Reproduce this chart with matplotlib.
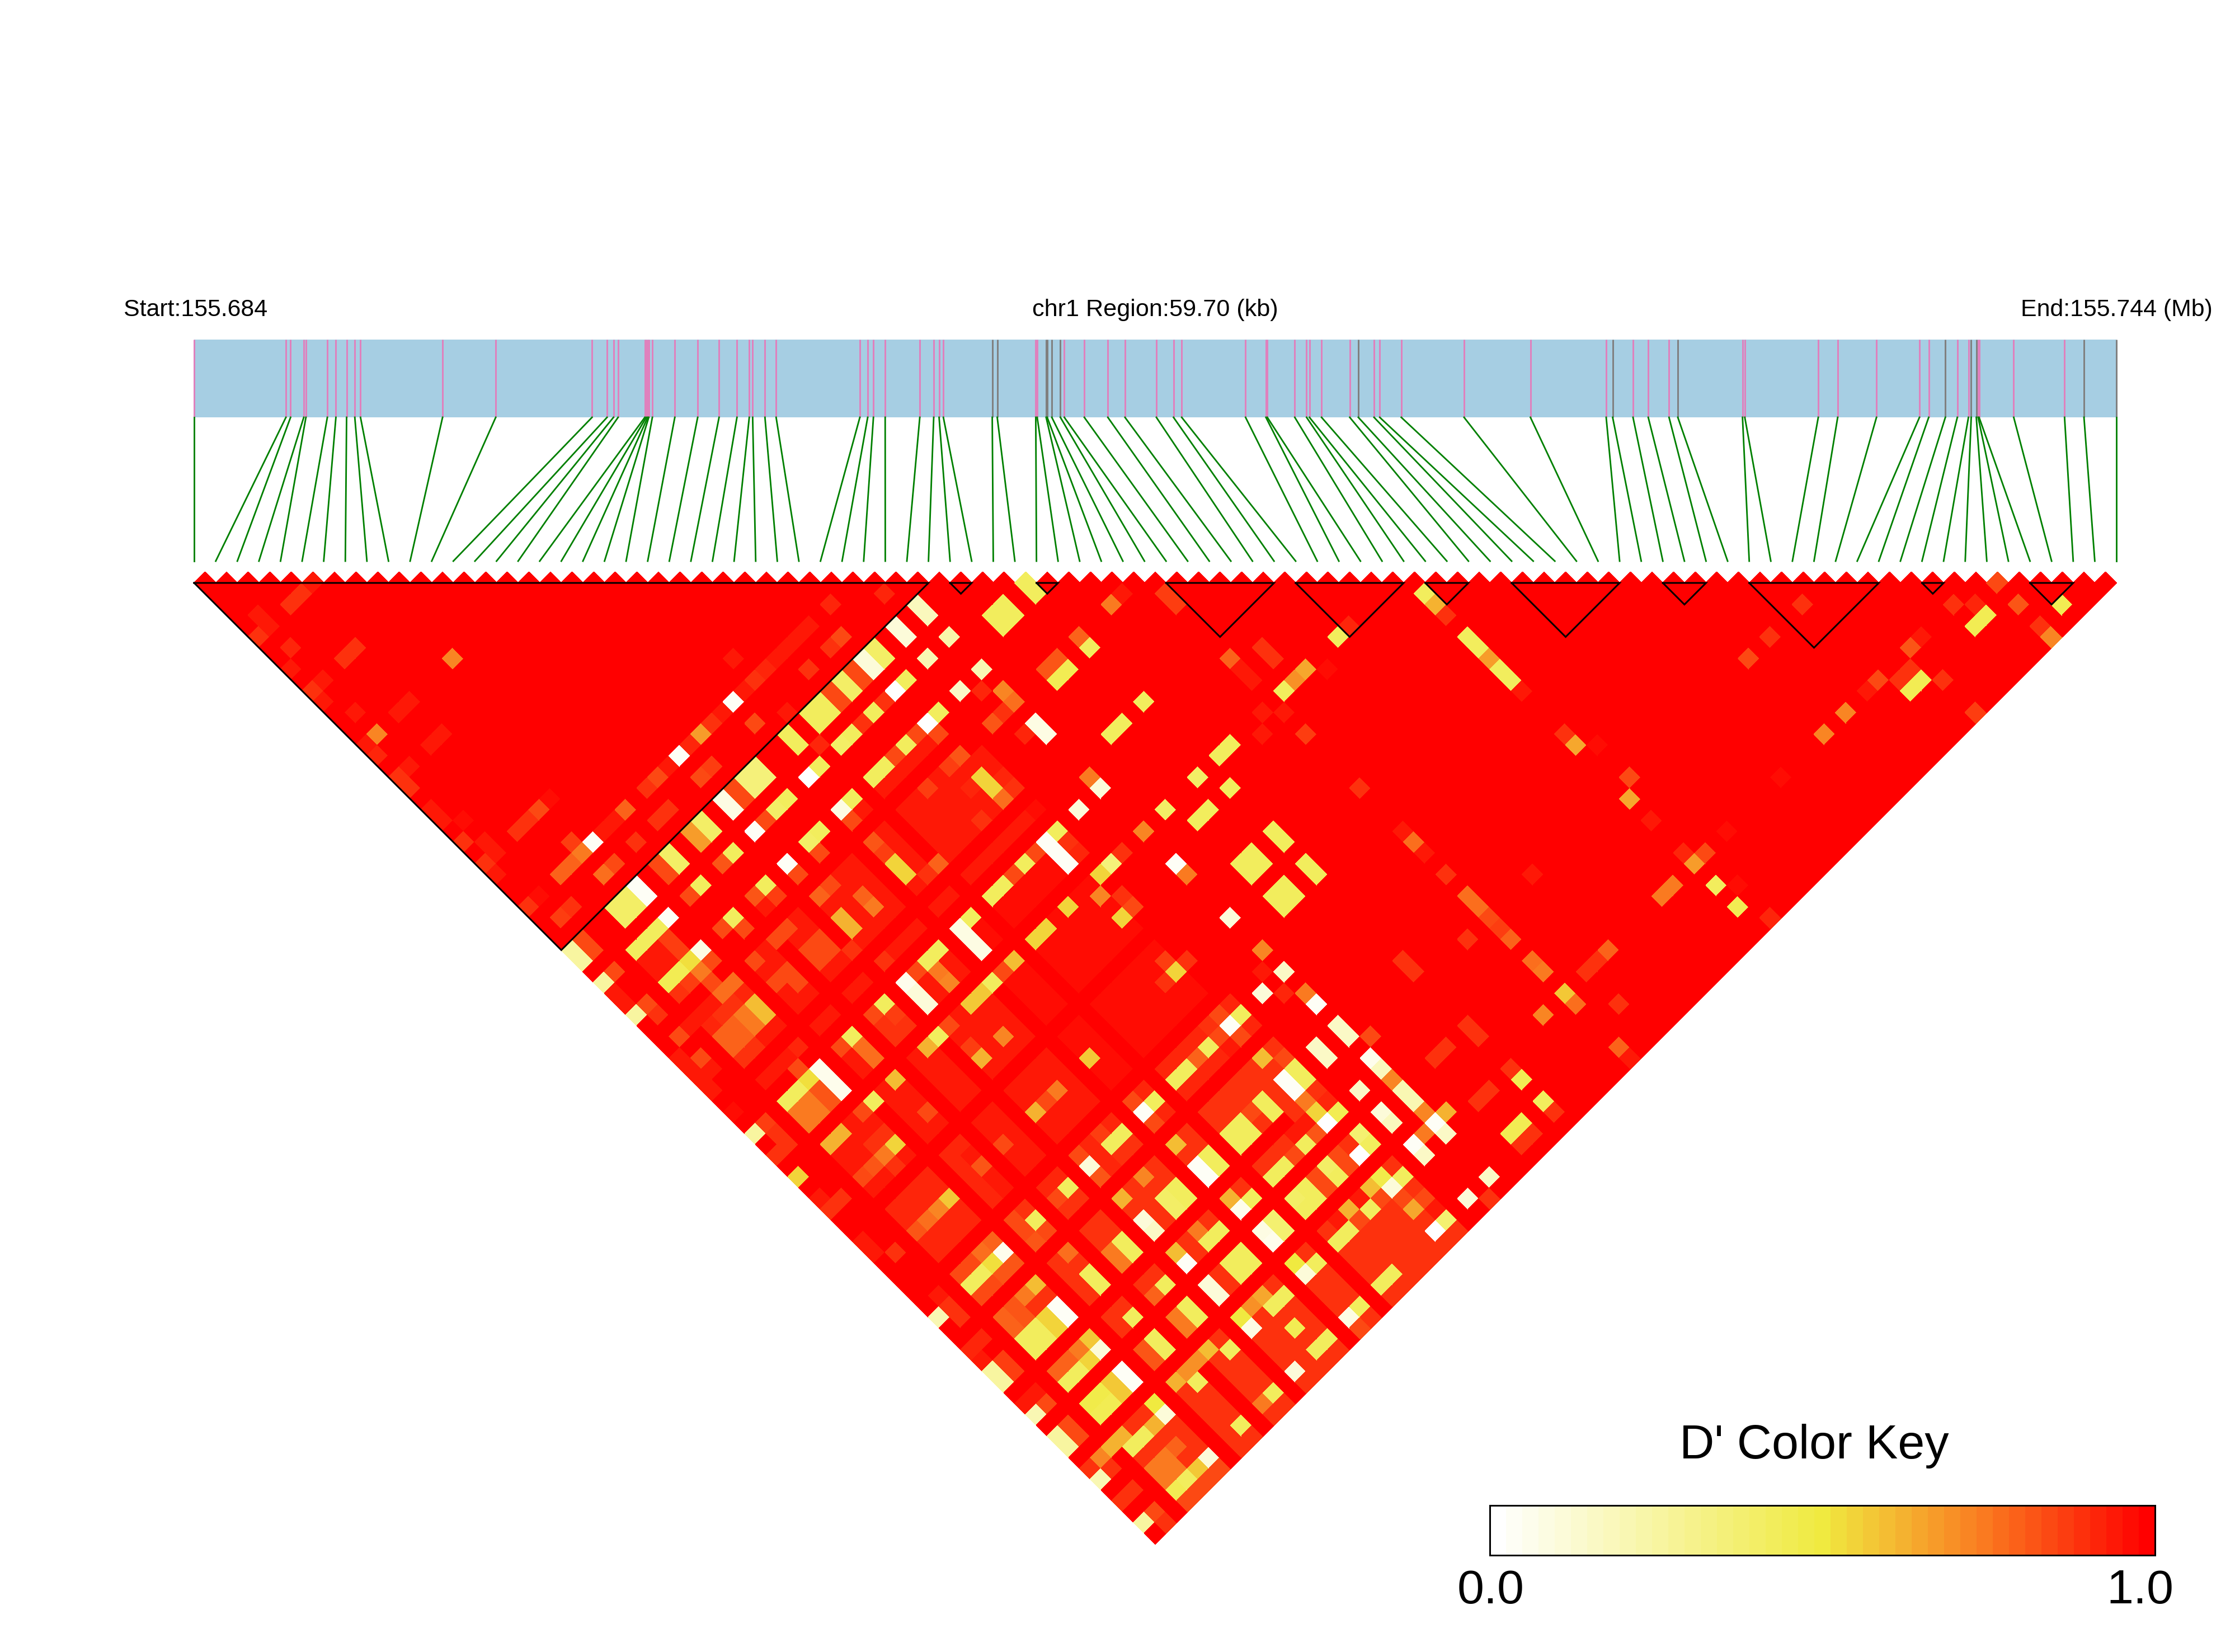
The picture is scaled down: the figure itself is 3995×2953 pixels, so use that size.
import numpy as np
import matplotlib
matplotlib.use('Agg')
import matplotlib.pyplot as plt
from matplotlib.collections import PolyCollection
from matplotlib.colors import LinearSegmentedColormap

plt.rcParams['font.family'] = ['Liberation Sans', 'DejaVu Sans']

# snp positions in kb from region start
snp_kb = [0.0, 2.851, 2.995, 3.405, 3.472, 4.137, 4.403, 4.735, 4.990, 5.167,
          7.716, 9.367, 12.358, 12.824, 13.024, 13.167, 13.998, 14.043, 14.087, 14.120,
          14.231, 14.929, 15.639, 16.303, 16.859, 17.241, 17.346, 17.728, 18.075, 20.676,
          20.919, 21.097, 21.462, 22.537, 22.969, 23.136, 23.269, 24.787, 24.942, 26.139,
          26.183, 26.460, 26.493, 26.637, 26.903, 27.025, 27.646, 28.377, 28.909, 29.884,
          30.416, 30.671, 32.654, 33.286, 33.330, 34.183, 34.549, 34.638, 35.014, 35.890,
          36.156, 36.644, 36.821, 37.49, 39.44, 41.501, 43.854, 44.055, 44.687, 45.160,
          45.806, 46.079, 48.088, 48.159, 50.441, 51.044, 52.249, 53.584, 53.871, 54.388,
          54.760, 55.105, 55.191, 55.349, 55.406, 55.435, 56.511, 58.090, 58.693, 59.70]
gray_snps = [37, 38, 41, 42, 43, 44, 60, 67, 71, 79, 82, 83, 88, 89]
region_kb = 59.70

blocks = [(0, 34), (35, 36), (39, 40), (45, 50), (51, 56), (57, 59),
          (61, 66), (68, 70), (72, 78), (80, 81), (85, 87)]

# (i low, i high, j low, j high, D') regions of slightly lower D'
tint_boxes = [(3, 9, 44, 50, .95), (11, 17, 44, 50, .93), (19, 27, 38, 50, .95),
              (3, 9, 52, 60, .94), (11, 17, 52, 60, .95), (19, 27, 52, 66, .96), (3, 9, 62, 66, .92),
              (11, 17, 62, 66, .95), (3, 12, 68, 70, .92), (14, 28, 68, 70, .92), (3, 28, 72, 89, .89)]
red_rows = [2, 7, 10, 13, 18, 21, 29, 31]
red_cols = [37, 39, 40, 43, 49, 51, 55, 61, 67, 71, 76, 79, 82]

# i, j, D'
cells_block = [
    (3,6,.9),(4,6,.9),(5,6,.95),(5,8,.98),(8,11,.98),(1,5,.93),(1,6,.93),(0,6,.9),(6,11,.98),(8,14,.98),
    (1,8,.92),(0,9,.93),(3,11,.9),(4,11,.9),(6,14,.98),(8,16,.72),(11,19,.98),(1,11,.94),(0,11,.9),(0,12,.93),
    (8,19,.98),(3,16,.93),(4,16,.93),(1,14,.93),(1,16,.72),(0,16,.93),(0,17,.92),(3,19,.93),(4,19,.93),(1,19,.95),
    (0,19,.9),(0,20,.9),(8,27,.98),(6,27,.97),(5,27,.85),(3,27,.9),(4,27,.9),(0,22,.95),(0,23,.93),(1,24,.96),
    (0,25,.9),(1,26,.95),(1,27,.95),(0,27,.9),(0,28,.95),(1,31,.96),(0,31,.88),(5,30,.87),(5,31,.75),(3,31,.8),
    (4,31,.8),(2,33,.9),(1,33,.86),(31,33,.92),(28,31,.92),(26,31,.95),(25,31,.95),(24,31,.95),(23,31,.95),(22,31,.92),
    (21,31,.9),(20,31,.95),(19,31,.03),(18,31,.93),(17,31,.9),(16,31,.68),(15,31,.92),(14,31,.03),(13,31,.95),(12,31,.85),
    (11,31,.9),(27,33,.85),(26,33,.9),(24,33,.88),(21,29,.95),(14,27,.98),(11,27,.98),(21,34,.93),(19,33,.85),(15,33,.87),
    (14,33,.83),(11,33,.9),(10,33,.88),(9,31,.8),(8,31,.95),(7,31,.95),(6,31,.03),(8,33,.88),(6,33,.85),(5,33,.78),
]
cells_left = [
    (38,39,.42),(38,40,.42),(0,35,.25),(0,36,.25),(32,35,.18),(32,36,.18),(32,38,.22),(30,38,.2),(30,35,.1),(30,36,.1),
    (36,39,.42),(36,40,.42),(35,39,.42),(35,40,.42),(41,44,.75),(42,44,.95),(32,41,.2),(30,41,.15),(31,42,.92),(32,43,.72),
    (32,44,.78),(31,44,.88),(30,44,.82),(38,44,.8),(38,45,.42),(36,44,.82),(35,44,.82),(36,45,.45),(35,45,.45),(32,46,.08),
    (32,47,.08),(31,46,.92),(35,50,.42),(36,50,.42),(28,35,.4),(28,36,.4),(27,35,.1),(27,36,.1),(25,35,.4),(25,36,.4),
    (26,36,.85),(26,35,.85),(24,36,.85),(24,35,.85),(23,35,.42),(23,36,.42),(22,35,.42),(22,36,.42),(20,35,.42),(20,36,.42),
    (21,37,.92),(28,38,.42),(27,38,.02),(26,38,.9),(25,38,.42),(24,38,.88),(23,38,.42),(22,38,.4),(20,38,.42),(19,38,.02),
    (28,41,.42),(27,41,.02),(26,41,.85),(25,41,.42),(24,41,.85),(23,41,.42),(22,41,.42),(20,41,.42),(19,41,.08),(19,42,.85),
    (27,42,.85),(26,42,.93),(27,44,.82),(26,44,.86),(27,45,.93),(28,45,.93),(28,46,.93),(27,46,.55),(27,47,.55),(27,48,.78),
    (28,48,.9),(28,47,.92),(26,46,.92),(26,47,.93),(25,48,.9),(24,44,.87),(27,50,.93),(28,50,.96),(32,51,.75),(32,52,.1),
    (30,52,.12),(28,52,.42),(27,52,.03),(27,53,.03),(27,54,.03),(28,53,.9),(28,54,.92),(26,52,.83),(25,52,.42),(24,52,.85),
    (23,52,.42),(22,52,.42),(25,50,.95),(19,46,.55),(19,47,.55),(19,44,.82),(19,45,.86),(21,48,.8),(20,48,.88),(17,35,.35),
    (17,36,.35),(16,35,.35),(16,36,.35),(14,35,.08),(14,36,.08),(15,36,.85),(15,35,.85),(12,35,.4),(12,36,.4),(11,35,.68),
    (11,36,.68),(9,35,.4),(9,36,.4),(8,35,.83),(8,36,.83),(6,35,.03),(6,36,.03),(5,35,.4),(5,36,.4),(4,35,.4),
    (4,36,.4),(1,35,.85),(1,36,.85),(6,38,.03),(5,38,.42),(4,38,.42),(3,38,.42),(9,38,.42),(8,38,.83),(12,38,.42),
    (11,38,.82),(14,38,.03),(15,38,.85),(16,38,.4),(17,38,.42),(17,41,.42),(16,41,.4),(14,41,.03),(14,42,.85),(12,41,.42),
    (11,41,.82),(12,42,.87),(11,42,.93),(16,42,.85),(9,41,.42),(8,41,.83),(9,42,.85),(6,41,.08),(5,41,.52),(4,41,.45),
    (3,41,.45),(11,44,.85),(10,44,.85),(8,44,.85),(14,46,.62),(14,47,.62),(12,46,.85),(12,47,.85),
    (11,46,.85),(11,47,.85),(13,48,.88),(16,46,.8),(16,47,.75),(15,44,.85),(14,44,.8),(14,50,.9),(19,52,.08),(19,53,.08),
    (19,54,.08),(20,52,.42),(17,52,.42),(16,52,.42),(15,52,.85),(14,52,.05),(14,53,.1),(14,54,.1),(16,53,.75),(16,54,.72),
    (20,56,.6),(18,56,.42),(17,56,.58),(16,56,.58),(19,56,.85),(23,56,.55),(22,56,.55),(25,56,.55),(29,56,.35),(28,56,.55),
    (27,57,.72),(12,52,.42),
    # lower left edge
    (1,38,.85),(0,38,.25),(5,39,.87),(5,40,.87),(4,39,.93),(4,40,.93),(3,39,.93),(3,40,.93),(3,42,.88),(4,42,.87),
    (5,42,.75),(6,42,.83),(5,43,.85),(6,44,.77),(5,44,.77),(6,45,.92),(5,45,.9),(4,45,.9),(3,45,.92),(6,46,.6),
    (6,47,.6),(5,46,.75),(5,47,.75),(4,46,.8),(4,47,.8),(3,46,.8),(3,47,.8),(4,48,.9),(3,48,.9),(6,50,.92),
    (5,50,.93),(5,51,.85),(4,50,.95),(3,50,.95),(0,41,.25),(1,41,.85),(1,42,.9),(0,40,.93),(0,39,.93),(2,44,.93),
    (1,44,.85),(0,45,.95),(1,46,.85),(1,47,.93),(0,46,.93),(0,47,.93),(0,48,.93),(0,50,.97),(9,46,.85),(9,47,.85),
    (8,46,.85),(8,47,.93),(9,48,.93),(8,48,.93),(9,50,.95),(11,52,.85),(12,53,.87),(12,54,.9),(11,53,.88),(11,54,.9),
    (0,62,.93),(0,63,.93),(1,64,.88),
]
cells_bottom = [
    (0,52,.25),(1,52,.87),(1,53,.9),(1,54,.9),(0,54,.9),(0,56,.55),(0,58,.93),(1,59,.9),(0,59,.9),(3,52,.42),
    (4,52,.42),(5,52,.52),(6,52,.05),(6,53,.05),(6,54,.05),(4,53,.75),(4,54,.75),(3,53,.75),(3,54,.75),(5,53,.82),
    (5,54,.82),(9,52,.42),(9,53,.77),(9,54,.77),(8,52,.85),(8,53,.93),(8,54,.93),(9,56,.6),(7,56,.42),(6,56,.85),
    (4,56,.62),(3,56,.62),(6,59,.55),(5,59,.75),(4,59,.82),(3,59,.85),(5,60,.88),(6,58,.9),(5,58,.9),(9,59,.85),
    (8,57,.93),(6,64,.58),(5,64,.72),(4,64,.78),(3,64,.82),(9,64,.82),(9,63,.95),(9,65,.95),(9,66,.95),(9,69,.42),
    (9,68,.9),(8,68,.85),(8,69,.85),(9,70,.85),(8,70,.82),(12,69,.42),(11,69,.85),(12,68,.92),(11,68,.92),(12,70,.88),
    (11,70,.9),(14,69,.1),(14,68,.85),(14,70,.82),(16,69,.42),(17,69,.42),(16,68,.87),(16,70,.88),(17,70,.88),(19,64,.58),
    (16,64,.75),(14,64,.62),(15,64,.85),(16,59,.72),(14,59,.62),(14,58,.87),(13,56,.42),(12,56,.62),(14,56,.85),(11,64,.84),
    (20,69,.42),(19,69,.03),(19,68,.85),(19,70,.85),(22,69,.42),(23,69,.42),(24,69,.8),(25,69,.42),(26,69,.85),(27,69,.03),
    (28,69,.42),(27,68,.85),(27,70,.85),(26,70,.93),(0,69,.2),(1,69,.88),(1,70,.88),(1,68,.95),(1,72,.92),(0,72,.92),
    (0,73,.93),(0,74,.25),(0,75,.25),(1,75,.87),(1,74,.87),(0,78,.2),(1,78,.85),(0,77,.93),(1,77,.93),(0,80,.25),
    (0,81,.25),(1,80,.85),(1,81,.85),(0,84,.2),(0,83,.88),(1,84,.88),(1,83,.72),(2,83,.62),(3,83,.62),(3,84,.42),
    (4,84,.42),(5,84,.62),(6,84,.1),(6,83,.5),(0,88,.25),(1,88,.85),(1,89,.9),(0,86,.9),(1,86,.9),(3,88,.45),
    (4,88,.42),(5,88,.58),(6,88,.1),(3,89,.85),(4,89,.85),(5,89,.85),(6,89,.85),(3,86,.75),(4,86,.75),(3,87,.75),
    (4,87,.75),(5,86,.8),(4,80,.48),(4,81,.45),(3,80,.48),(3,81,.45),(5,80,.58),(5,81,.58),(6,80,.03),(6,81,.03),
    (3,78,.42),(4,78,.42),(5,78,.55),(6,78,.12),(5,77,.75),(6,77,.58),(3,77,.8),(4,77,.8),(4,74,.42),(4,75,.42),
    (3,74,.42),(3,75,.42),(5,74,.55),(5,75,.55),(6,74,.03),(6,75,.03),(3,72,.8),(3,73,.8),(4,72,.82),(4,73,.82),
    (6,72,.6),(5,72,.75),(3,69,.42),(4,69,.42),(5,69,.52),(6,69,.05),(6,68,.8),(5,68,.78),(6,70,.82),(5,70,.82),
    (4,70,.85),(3,70,.85),(4,68,.85),(3,68,.85),(9,74,.42),(9,75,.42),(9,72,.78),(12,74,.42),(12,75,.42),(11,74,.75),
    (11,75,.75),(14,74,.1),(14,75,.15),(14,72,.62),(16,72,.72),(17,74,.42),(17,75,.42),(16,74,.4),(16,75,.4),(19,72,.6),
    (19,74,.03),(19,75,.03),(20,74,.42),(20,75,.42),(23,74,.42),(23,75,.42),(22,74,.42),(22,75,.42),(27,72,.6),(19,77,.62),
    (19,78,.05),(20,78,.42),(17,78,.42),(16,78,.42),(16,77,.75),(14,77,.6),(14,78,.03),(12,78,.42),(11,78,.8),(25,74,.42),
    (25,75,.42),(24,74,.85),(22,78,.42),(22,84,.42),(19,83,.5),(19,84,.1),(20,84,.42),(22,88,.42),(23,88,.42),(20,88,.42),
    (19,88,.08),(19,89,.85),(16,86,.45),(16,84,.42),(17,84,.42),(16,83,.65),(15,83,.7),(14,83,.5),(14,84,.08),(14,80,.1),
    (14,81,.12),(17,80,.42),(17,81,.42),(16,80,.42),(16,81,.42),(19,80,.08),(19,81,.05),(20,80,.38),(20,81,.38),(12,80,.42),
    (12,81,.42),(11,80,.75),(11,81,.75),(9,80,.42),(9,81,.42),(8,80,.82),(8,81,.82),(9,78,.42),(11,83,.6),(10,83,.7),
    (9,83,.7),(8,83,.62),(12,84,.42),(9,84,.42),(14,88,.1),(12,88,.42),(11,88,.75),(16,88,.42),(17,88,.42),(9,88,.42),
]
cells_right = [
    (32,69,.15),(32,71,.75),(32,72,.04),(31,70,.92),(32,74,.15),(32,75,.15),(33,76,.85),(30,74,.15),(30,75,.15),(32,77,.06),
    (32,78,.18),(32,79,.72),(32,80,.2),(32,81,.2),(32,82,.72),(32,83,.04),(32,84,.15),(33,83,.62),(31,83,.75),(30,83,.04),
    (30,84,.15),(30,78,.15),(30,80,.12),(30,81,.18),(28,80,.38),(28,81,.42),(27,81,.02),(28,78,.45),(27,78,.02),(27,77,.55),
    (27,76,.75),(28,76,.88),(28,77,.92),(28,74,.42),(28,75,.42),(27,74,.03),(27,75,.03),(28,73,.85),(26,77,.93),(26,76,.88),
    (26,78,.82),(25,78,.42),(25,77,.93),(24,78,.83),(24,77,.9),(23,78,.42),(26,80,.85),(26,81,.85),(25,80,.4),(25,81,.42),
    (24,80,.83),(24,81,.83),(23,80,.42),(23,81,.42),(22,80,.4),(22,81,.42),(28,83,.9),(27,83,.48),(28,84,.42),(27,84,.1),
    (26,83,.6),(28,85,.88),(27,85,.84),(28,86,.85),(27,86,.65),(28,87,.93),(27,87,.9),(28,88,.38),(27,88,.02),(25,83,.93),
    (24,83,.62),(25,84,.42),(24,84,.85),(23,84,.42),(26,84,.85),(23,83,.93),(38,85,.45),(38,84,.9),(30,88,.12),(32,88,.15),
    (31,89,.9),(38,87,.42),(38,88,.88),(35,87,.45),(36,87,.45),(35,88,.9),(36,88,.9),(35,84,.9),(36,84,.9),(35,80,.9),
    (36,80,.9),(38,80,.9),(38,81,.9),(38,74,.9),(38,75,.9),(44,80,.78),(44,81,.75),(42,83,.72),(44,83,.58),(44,84,.77),
    (44,46,.87),(44,47,.87),(51,56,.92),(50,56,.42),(56,58,.42),(56,59,.62),(56,60,.88),(56,62,.42),(56,63,.42),(56,64,.68),
    (56,65,.42),(56,66,.42),(56,67,.93),(44,52,.8),(44,53,.93),(44,54,.93),(46,53,.9),(46,54,.9),(47,56,.65),(46,56,.7),
    (45,56,.42),(48,57,.97),(38,50,.42),(43,56,.93),(44,57,.95),(42,57,.95),(44,59,.87),(39,56,.42),(40,56,.42),(37,56,.4),
    (38,58,.42),(34,56,.4),(35,58,.42),(36,58,.42),(32,56,.72),(30,56,.9),(32,59,.04),(32,60,.75),(36,62,.42),(36,63,.42),
    (35,62,.42),(35,63,.42),(38,62,.42),(38,63,.42),(38,65,.42),(38,66,.42),(36,65,.42),(36,66,.42),(35,65,.42),(35,66,.42),
    (32,64,.1),(27,59,.55),(28,59,.85),(28,58,.9),(44,64,.88),(56,72,.65),(56,71,.9),(57,73,.97),(57,76,.83),(56,77,.65),
    (56,79,.93),(59,83,.96),(64,83,.96),(68,83,.72),(70,83,.72),(73,76,.88),(70,76,.88),(68,76,.85),(44,68,.93),(44,69,.78),
    (44,70,.93),(44,72,.88),(48,76,.93),(44,74,.78),(44,75,.78),(44,76,.85),(44,77,.87),(44,78,.8),(42,76,.9),(32,67,.72),
    (31,68,.95),(30,69,.1),(26,68,.9),(27,64,.55),(27,63,.87),(28,64,.9),(26,64,.88),(83,84,.85),(80,83,.88),(81,84,.92),
    (81,85,.45),(80,85,.45),(83,86,.82),(85,88,.45),(83,88,.88),(83,89,.72),(77,83,.93),(76,83,.82),(75,84,.9),(74,84,.9),
    (75,85,.45),(74,85,.45),(76,86,.88),(73,83,.83),(72,83,.93),(76,89,.87),(56,87,.45),(57,86,.97),(57,89,.92),(56,85,.42),
    (56,83,.68),(56,82,.92),(57,83,.85),(53,83,.75),(54,83,.75),(48,83,.8),(47,83,.9),(46,83,.9),(46,86,.9),(44,88,.8),
    (44,89,.95),
]

key_levels = 41

# layout in pixels
x_left, x_right = 347, 3783
band_top, band_bottom = 607, 746
link_bottom = 1003
heat_top = 1042

n = len(snp_kb)
step = (x_right - x_left) / (n - 1)
half = step / 2

d = np.ones((n, n))
for i0, i1, j0, j1, val in tint_boxes:
    d[i0:i1 + 1, j0:j1 + 1] = val
d[red_rows, :] = 1
d[:, red_cols] = 1
for i, j, val in cells_block + cells_left + cells_bottom + cells_right:
    d[i, j] = val

cmap = LinearSegmentedColormap.from_list(
    'dprime', [(0, '#FFFFFF'), (.25, '#F8F5A0'), (.5, '#F0EA40'), (.75, '#FA7A20'), (1, '#FF0000')], N=key_levels)

fig = plt.figure(figsize=(3995 / 300, 2953 / 300), dpi=300)
ax = fig.add_axes([0, 0, 1, 1])
ax.set_xlim(0, 3995)
ax.set_ylim(2953, 0)
ax.axis('off')

# gene band
ax.fill_between([x_left, x_right], band_top, band_bottom, color='#A6CEE3', lw=0, zorder=1)
snp_px = [x_left + k / region_kb * (x_right - x_left) for k in snp_kb]
for k, px in enumerate(snp_px):
    col = '#808080' if k in gray_snps else '#DF81BD'
    ax.plot([px, px], [band_top, band_bottom], color=col, lw=.72, solid_capstyle='butt', zorder=2)
    ax.plot([px, x_left + k * step], [band_bottom, link_bottom], color='#008000', lw=.68, zorder=2)

# heat map
polys, vals = [], []
for i in range(n):
    for j in range(i + 1, n):
        cx = x_left + (i + j) / 2 * step
        cy = heat_top + (j - i - 1) * half
        polys.append([(cx - half, cy), (cx, cy - half), (cx + half, cy), (cx, cy + half)])
        vals.append(d[i, j])
pc = PolyCollection(polys, array=np.array(vals), cmap=cmap, clim=(0, 1), edgecolors='face',
                    linewidths=.2, antialiaseds=False, zorder=3)
ax.add_collection(pc)

for a, b in blocks:
    xa, xb = x_left + a * step, x_left + b * step
    tri_x = [xa, xb, (xa + xb) / 2, xa]
    tri_y = [heat_top, heat_top, heat_top + (b - a) * half, heat_top]
    ax.plot(tri_x, tri_y, color='black', lw=.72, zorder=4, solid_joinstyle='miter')

ax.text(350, 554, 'Start:155.684', ha='center', va='center', fontsize=10.3)
ax.text(2065, 554, 'chr1 Region:59.70 (kb)', ha='center', va='center', fontsize=10.4)
ax.text(3783, 554, 'End:155.744 (Mb)', ha='center', va='center', fontsize=10.3)

# colour key
ax.text(3243, 2607, "D' Color Key", ha='center', va='baseline', fontsize=20.7)
ax.text(2665, 2866, '0.0', ha='center', va='baseline', fontsize=20.7)
ax.text(3825, 2866, '1.0', ha='center', va='baseline', fontsize=20.7)
key_ax = fig.add_axes([2663 / 3995, 1 - 2780 / 2953, (3852 - 2663) / 3995, (2780 - 2691) / 2953])
key_ax.imshow(np.linspace(0, 1, key_levels)[None, :], cmap=cmap, vmin=0, vmax=1, aspect='auto', interpolation='nearest')
key_ax.set_xticks([])
key_ax.set_yticks([])
for sp in key_ax.spines.values():
    sp.set_linewidth(.72)

fig.savefig('out.png', dpi=300)
